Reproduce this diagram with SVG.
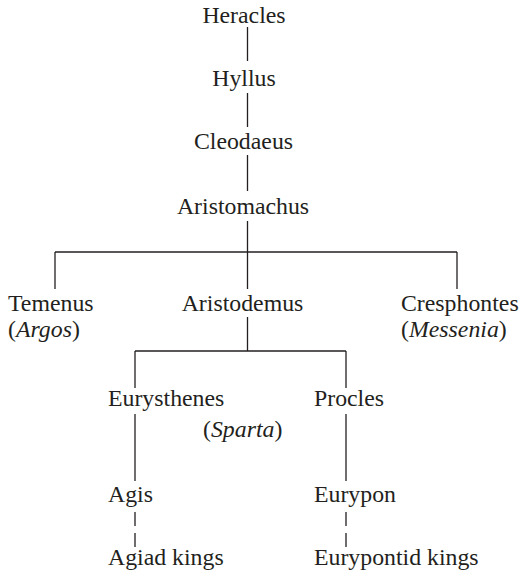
<svg xmlns="http://www.w3.org/2000/svg" width="522" height="574" viewBox="0 0 522 574">
<style>
text{font-family:"Liberation Serif","Times New Roman",serif;font-size:23.8px;fill:#231f20}
.it{font-style:italic}
.c{text-anchor:middle}
#connectors line{stroke:#231f20;stroke-width:1.3;fill:none}
#connectors .d{stroke-dasharray:14 7}
</style>
<rect width="522" height="574" fill="#fff"/>
<g id="connectors">
<line x1="247.5" y1="27" x2="247.5" y2="61"/>
<line x1="247.5" y1="93" x2="247.5" y2="127"/>
<line x1="247.5" y1="155" x2="247.5" y2="191"/>
<line x1="247.5" y1="221" x2="247.5" y2="289"/>
<line x1="55" y1="252" x2="457" y2="252"/>
<line x1="55" y1="252" x2="55" y2="289"/>
<line x1="457" y1="252" x2="457" y2="289"/>
<line x1="247.5" y1="317" x2="247.5" y2="351"/>
<line x1="135" y1="351" x2="346" y2="351"/>
<line x1="135" y1="351" x2="135" y2="388"/>
<line x1="346" y1="351" x2="346" y2="388"/>
<line x1="135" y1="414" x2="135" y2="481"/>
<line x1="346" y1="414" x2="346" y2="481"/>
<line class="d" x1="135" y1="512" x2="135" y2="547"/>
<line class="d" x1="346" y1="512" x2="346" y2="547"/>
</g>
<g id="heracles"><text x="244" y="23" class="c">Heracles</text></g>
<g id="hyllus"><text x="244" y="86" class="c">Hyllus</text></g>
<g id="cleodaeus"><text x="243.5" y="149" class="c">Cleodaeus</text></g>
<g id="aristomachus"><text x="243" y="214" class="c">Aristomachus</text></g>
<g id="temenus"><text x="8" y="311">Temenus</text><text x="8" y="337">(<tspan class="it">Argos</tspan>)</text></g>
<g id="aristodemus"><text x="242.5" y="311" class="c">Aristodemus</text></g>
<g id="cresphontes"><text x="401" y="311">Cresphontes</text><text x="401" y="337">(<tspan class="it">Messenia</tspan>)</text></g>
<g id="eurysthenes"><text x="108" y="406">Eurysthenes</text><text x="203" y="437">(<tspan class="it">Sparta</tspan>)</text></g>
<g id="procles"><text x="314" y="406">Procles</text></g>
<g id="agis"><text x="108" y="502">Agis</text></g>
<g id="eurypon"><text x="314" y="502">Eurypon</text></g>
<g id="agiad"><text x="108" y="565">Agiad kings</text></g>
<g id="eurypontid"><text x="314" y="565">Eurypontid kings</text></g>
</svg>
